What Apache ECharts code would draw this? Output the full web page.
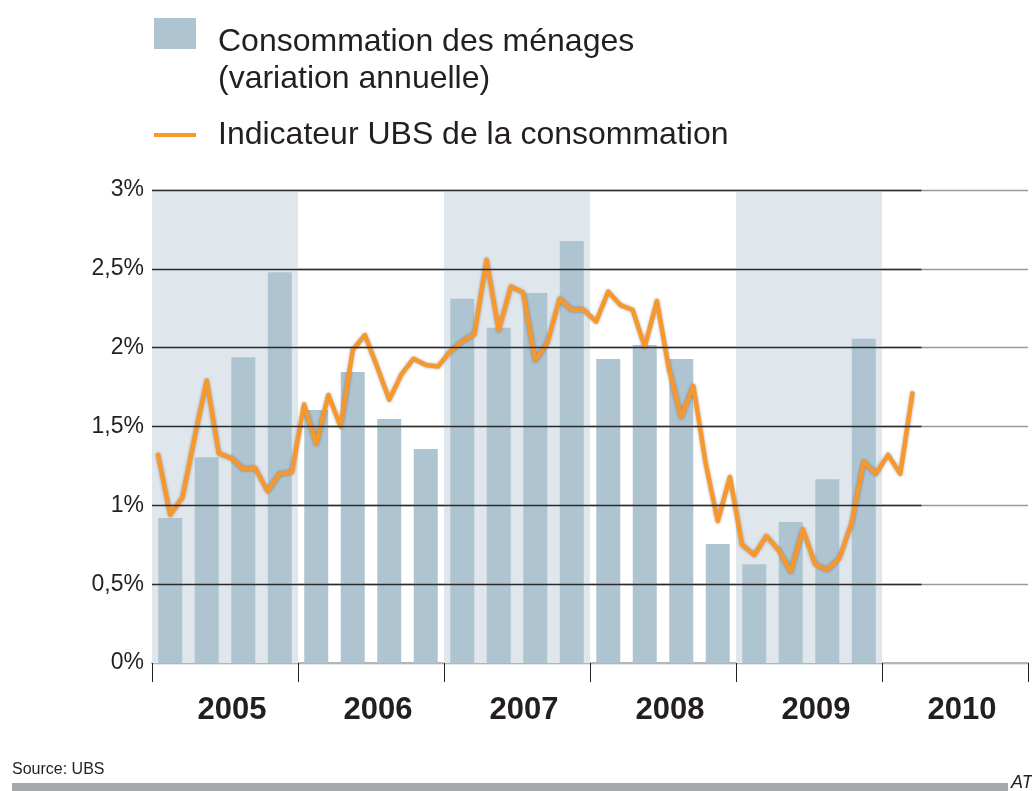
<!DOCTYPE html>
<html>
<head>
<meta charset="utf-8">
<script src="https://cdn.jsdelivr.net/npm/echarts@6/dist/echarts.min.js"></script>
<style>
  html, body { margin: 0; padding: 0; background: #fff; }
  #chart { width: 1032px; height: 791px; }
</style>
</head>
<body>
<div id="chart"></div>
<script>
// years on the axis, shaded ones get the light band
const years = ["2005", "2006", "2007", "2008", "2009", "2010"];
const shadedYears = ["2005", "2007", "2009"];
const yTicks = [0.5, 1, 1.5, 2, 2.5, 3];

// quarterly household consumption, Q1 2005 .. Q4 2009
const barName = "Consommation des ménages";
const barValues = [
  0.92, 1.305, 1.94, 2.478,
  1.605, 1.846, 1.548, 1.357,
  2.31, 2.127, 2.347, 2.677,
  1.928, 2.017, 1.928, 0.755,
  0.626, 0.894, 1.165, 2.057,
];

// monthly UBS indicator, Jan 2005 .. Mar 2010
const lineName = "Indicateur UBS de la consommation";
const lineValues = [
  1.32, 0.94, 1.05, 1.43, 1.79, 1.33, 1.30, 1.23, 1.235, 1.09, 1.20, 1.21,
  1.64, 1.39, 1.70, 1.50, 1.985, 2.08, 1.88, 1.67, 1.83, 1.93, 1.89, 1.88,
  1.975, 2.04, 2.085, 2.556, 2.11, 2.387, 2.35, 1.92, 2.03, 2.31, 2.24, 2.24,
  2.165, 2.355, 2.27, 2.24, 2.006, 2.296, 1.86, 1.56, 1.757, 1.27, 0.90, 1.18,
  0.75, 0.685, 0.805, 0.717, 0.58, 0.848, 0.626, 0.59, 0.664, 0.886, 1.277, 1.20,
  1.32, 1.20, 1.71,
];

const FONT = "Liberation Sans, Arial, sans-serif";
const INK = "#231f20";
const ORANGE = "#f7982f";
const months = years.length * 12;
const firstYear = +years[0];

// swatch sits at the top of a taller icon box so the text lines up lower
const swatchIcon = "path://M0,0H42V31H0Z M0,48.9H0.05V49H0Z";

const chart = echarts.init(document.getElementById("chart"));

const option = {
  animation: false,
  grid: { left: 152, right: 4, top: 190, bottom: 128 },
  title: [
    {
      text: "(variation annuelle)",
      left: 218, top: 63, padding: 0,
      textStyle: { fontFamily: FONT, fontSize: 32, fontWeight: "normal", color: INK },
    },
    {
      text: "Source: UBS",
      left: 12, top: 762, padding: 0,
      textStyle: { fontFamily: FONT, fontSize: 16, fontWeight: "normal", color: INK },
    },
    {
      text: "AT",
      left: 1011, top: 774, padding: 0,
      textStyle: { fontFamily: FONT, fontSize: 18, fontWeight: "normal", fontStyle: "italic", color: INK },
    },
  ],
  legend: [
    {
      data: [{ name: barName, icon: swatchIcon }],
      left: 154, top: 18, padding: 0,
      itemWidth: 42, itemHeight: 49,
      selectedMode: false,
      textStyle: { fontFamily: FONT, fontSize: 32, color: INK, padding: [0, 0, 0, 17] },
    },
    {
      data: [{ name: lineName, icon: "rect" }],
      left: 154, top: 119, padding: 0,
      itemWidth: 42, itemHeight: 4,
      selectedMode: false,
      itemStyle: { color: ORANGE },
      lineStyle: { width: 0 },
      textStyle: { fontFamily: FONT, fontSize: 32, color: INK, padding: [0, 0, 0, 17] },
    },
  ],
  graphic: [
    {
      type: "rect", left: 12, top: 783,
      shape: { width: 996, height: 8 },
      style: { fill: "#a7a8aa" },
    },
  ],
  xAxis: [
    {
      type: "value", min: 0, max: months, interval: 12,
      axisLine: { lineStyle: { color: "#b5b5b5", width: 2 } },
      axisTick: { show: true, length: 19, lineStyle: { color: INK, width: 1 } },
      axisLabel: { show: false },
      splitLine: { show: false },
    },
    {
      type: "category", data: years, position: "bottom",
      axisLine: { show: false }, axisTick: { show: false },
      axisLabel: {
        fontFamily: FONT, fontSize: 31, fontWeight: "bold", color: INK,
        margin: 47, verticalAlign: "middle", padding: [0, 0, 0, 14],
      },
      splitLine: { show: false },
    },
  ],
  yAxis: {
    type: "value", min: 0, max: 3, interval: 0.5,
    axisLine: { show: false }, axisTick: { show: false },
    axisLabel: {
      fontFamily: FONT, fontSize: 23, color: INK, margin: 8,
      formatter: (v) => String(v).replace(".", ",") + "%",
    },
    splitLine: { lineStyle: { color: "#9a9a9a", width: 1.3 } },
  },
  series: [
    {
      // year bands
      type: "line", data: [], z: 1, silent: true,
      markArea: {
        silent: true,
        itemStyle: { color: "#dfe6ec" },
        data: shadedYears.map((y) => {
          const s = (+y - firstYear) * 12;
          return [{ xAxis: s }, { xAxis: s + 12 }];
        }),
      },
    },
    {
      name: barName,
      type: "bar",
      xAxisIndex: 0,
      barWidth: 24,
      itemStyle: { color: "#afc4d1" },
      data: barValues.map((v, q) => [q * 3 + 1.5, v]),
      z: 2,
    },
    {
      // dark part of the gridlines, drawn above the bars
      type: "line", data: [], z: 3, silent: true,
      markLine: {
        silent: true, symbol: "none",
        label: { show: false },
        lineStyle: { color: "#2a2a2a", width: 1.3, type: "solid" },
        data: yTicks.map((v) => [{ coord: [0, v] }, { coord: [63.25, v] }]),
      },
    },
    {
      name: lineName,
      type: "line",
      xAxisIndex: 0,
      symbol: "none",
      z: 4,
      lineStyle: {
        color: ORANGE, width: 4.5, join: "round", cap: "round",
        shadowColor: "rgba(0,0,0,0.35)", shadowBlur: 3,
      },
      itemStyle: { color: ORANGE },
      data: lineValues.map((v, i) => [i + 0.5, v]),
    },
  ],
};

chart.setOption(option);
</script>
</body>
</html>
